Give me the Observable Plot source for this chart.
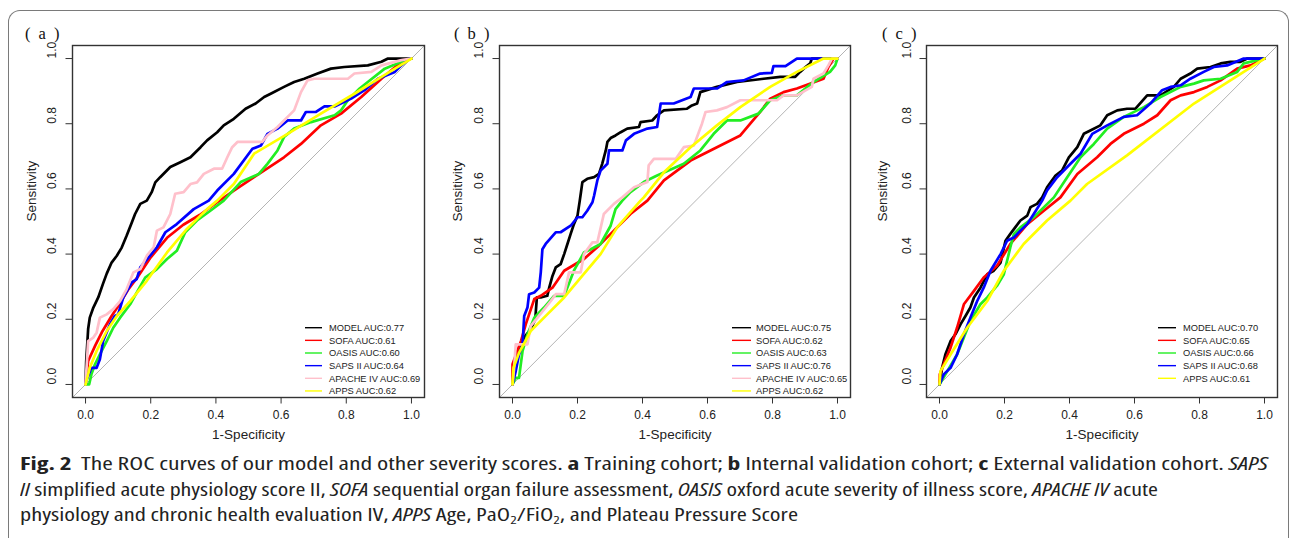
<!DOCTYPE html>
<html>
<head>
<meta charset="utf-8">
<script src="https://cdn.jsdelivr.net/npm/d3@7"></script>
<script src="https://cdn.jsdelivr.net/npm/@observablehq/plot@0.6"></script>
<style>
  html, body { margin: 0; padding: 0; background: #fff; }
  body { width: 1292px; height: 538px; position: relative; overflow: hidden; }
  #frame { position: absolute; left: 8px; top: 10px; width: 1281px; height: 600px;
           border: 1.5px solid #7a7a7a; border-bottom: none; border-radius: 12px 12px 0 0; box-sizing: border-box; }
  .panel { position: absolute; top: 0; }
  .plabel { position: absolute; font-family: "Liberation Serif", "DejaVu Serif", serif; font-size: 16.5px; color: #111; line-height: 20px; letter-spacing: 2px; white-space: pre; }
  .cap { position: absolute; left: 20px; white-space: nowrap; font-family: "Open Sans", "DejaVu Sans", sans-serif; font-stretch: 75%;
         font-size: 17.5px; line-height: 20px; color: #222; transform-origin: left center; }
  .cap b { font-weight: bold; }
  .cap sub { font-size: 11px; vertical-align: -3px; line-height: 0; }
  #overlay { position: absolute; left: 0; top: 0; pointer-events: none; }
</style>
</head>
<body>
<div id="frame"></div>
<div id="root"></div>
<script>
// ---------- data ----------
const DOMAIN = [-0.04, 1.04];
const X_TICKS = [0, 0.2, 0.4, 0.6, 0.8, 1.0];
const Y_TICKS = [0, 0.2, 0.4, 0.6, 0.8, 1.0];
const SERIES_AB = ["MODEL", "SOFA", "OASIS", "SAPS II", "APACHE IV", "APPS"];
const SERIES_C = ["MODEL", "SOFA", "OASIS", "SAPS II", "APPS"];
const AUC_A = [0.77, 0.61, 0.60, 0.64, 0.69, 0.62];
const AUC_B = [0.75, 0.62, 0.63, 0.76, 0.65, 0.62];
const AUC_C = [0.70, 0.65, 0.66, 0.68, 0.61];
const COLORS = {"MODEL": "#000000", "SOFA": "#ff0000", "OASIS": "#22ee22", "SAPS II": "#0000ff", "APACHE IV": "#ffc0cb", "APPS": "#ffff00"};

// panel (a) training cohort  [1-specificity, sensitivity]
const A_MODEL = [[0,0],[0.002,0.07],[0.008,0.17],[0.013,0.205],[0.024,0.236],[0.039,0.267],[0.054,0.31],[0.065,0.34],[0.08,0.374],[0.096,0.395],[0.111,0.42],[0.126,0.456],[0.142,0.497],[0.152,0.523],[0.168,0.554],[0.188,0.564],[0.203,0.59],[0.214,0.62],[0.229,0.636],[0.26,0.667],[0.291,0.682],[0.322,0.697],[0.353,0.728],[0.373,0.749],[0.404,0.774],[0.424,0.795],[0.455,0.815],[0.491,0.846],[0.522,0.862],[0.548,0.882],[0.568,0.892],[0.609,0.913],[0.64,0.928],[0.671,0.938],[0.712,0.954],[0.753,0.969],[0.794,0.974],[0.866,0.979],[0.908,0.99],[0.928,1],[1,1]];
const A_SOFA = [[0,0],[0.008,0.072],[0.03,0.12],[0.05,0.16],[0.08,0.21],[0.1,0.24],[0.13,0.29],[0.16,0.33],[0.2,0.39],[0.25,0.45],[0.3,0.49],[0.35,0.52],[0.404,0.559],[0.455,0.595],[0.517,0.636],[0.579,0.677],[0.609,0.697],[0.661,0.738],[0.722,0.795],[0.784,0.831],[0.846,0.882],[0.908,0.938],[0.969,0.99],[1,1]];
const A_OASIS = [[0,0],[0.011,0],[0.018,0.031],[0.029,0.062],[0.044,0.092],[0.065,0.133],[0.085,0.174],[0.106,0.205],[0.137,0.246],[0.157,0.282],[0.183,0.328],[0.219,0.354],[0.25,0.385],[0.28,0.41],[0.306,0.467],[0.342,0.503],[0.383,0.533],[0.424,0.564],[0.476,0.621],[0.532,0.646],[0.558,0.677],[0.589,0.718],[0.609,0.759],[0.64,0.785],[0.692,0.805],[0.764,0.826],[0.784,0.841],[0.805,0.872],[0.841,0.908],[0.866,0.928],[0.918,0.969],[0.969,0.99],[1,1]];
const A_SAPS = [[0,0.005],[0.018,0.051],[0.034,0.051],[0.044,0.077],[0.054,0.133],[0.075,0.185],[0.09,0.21],[0.1,0.215],[0.116,0.267],[0.142,0.313],[0.157,0.323],[0.168,0.359],[0.198,0.395],[0.219,0.421],[0.245,0.467],[0.28,0.492],[0.332,0.538],[0.378,0.564],[0.404,0.595],[0.455,0.646],[0.512,0.723],[0.538,0.733],[0.558,0.769],[0.589,0.785],[0.62,0.81],[0.661,0.81],[0.676,0.836],[0.707,0.836],[0.733,0.853],[0.764,0.853],[0.815,0.877],[0.856,0.903],[0.897,0.938],[0.949,0.959],[0.969,0.979],[0.995,1],[1,1]];
const A_APACHE = [[0,0],[0.008,0.133],[0.024,0.144],[0.034,0.159],[0.044,0.205],[0.065,0.215],[0.085,0.231],[0.106,0.256],[0.126,0.292],[0.147,0.344],[0.168,0.354],[0.188,0.395],[0.209,0.421],[0.219,0.472],[0.239,0.482],[0.26,0.523],[0.275,0.585],[0.301,0.59],[0.322,0.615],[0.342,0.62],[0.363,0.646],[0.394,0.662],[0.419,0.662],[0.435,0.697],[0.45,0.728],[0.466,0.744],[0.542,0.744],[0.558,0.764],[0.589,0.79],[0.62,0.821],[0.64,0.841],[0.661,0.897],[0.681,0.933],[0.702,0.938],[0.805,0.938],[0.825,0.954],[0.877,0.959],[0.908,0.979],[0.969,0.995],[1,1]];
const A_APPS = [[0,0],[0.013,0.051],[0.034,0.103],[0.065,0.164],[0.096,0.21],[0.137,0.256],[0.188,0.318],[0.25,0.405],[0.311,0.477],[0.373,0.538],[0.404,0.564],[0.455,0.615],[0.517,0.708],[0.62,0.769],[0.722,0.831],[0.825,0.892],[0.908,0.944],[1,1]];

// panel (b) internal validation cohort
const B_MODEL = [[0,0],[0.005,0.06],[0.02,0.11],[0.04,0.15],[0.056,0.169],[0.07,0.2],[0.075,0.267],[0.087,0.267],[0.107,0.272],[0.113,0.297],[0.123,0.333],[0.133,0.359],[0.148,0.369],[0.159,0.4],[0.169,0.431],[0.179,0.462],[0.189,0.492],[0.2,0.518],[0.207,0.564],[0.21,0.585],[0.215,0.621],[0.23,0.631],[0.251,0.636],[0.266,0.646],[0.276,0.677],[0.287,0.718],[0.292,0.744],[0.302,0.756],[0.317,0.764],[0.333,0.774],[0.353,0.785],[0.389,0.79],[0.394,0.805],[0.43,0.81],[0.445,0.826],[0.466,0.841],[0.537,0.846],[0.552,0.856],[0.568,0.862],[0.578,0.897],[0.629,0.913],[0.691,0.928],[0.773,0.938],[0.824,0.944],[0.87,0.944],[0.885,0.959],[0.896,0.969],[0.916,0.985],[0.921,1],[1,1]];
const B_SOFA = [[0,0],[0,0.062],[0.015,0.103],[0.026,0.133],[0.041,0.185],[0.067,0.262],[0.087,0.272],[0.123,0.297],[0.159,0.349],[0.22,0.385],[0.266,0.426],[0.312,0.472],[0.363,0.523],[0.415,0.564],[0.466,0.626],[0.548,0.687],[0.629,0.728],[0.701,0.764],[0.762,0.836],[0.793,0.877],[0.834,0.897],[0.875,0.908],[0.957,0.938],[0.972,0.974],[0.988,1],[1,1]];
const B_OASIS = [[0,0],[0.01,0.02],[0.02,0.02],[0.031,0.103],[0.046,0.154],[0.067,0.205],[0.097,0.236],[0.128,0.272],[0.159,0.272],[0.189,0.349],[0.22,0.405],[0.241,0.415],[0.271,0.431],[0.302,0.487],[0.317,0.538],[0.338,0.564],[0.363,0.59],[0.404,0.621],[0.445,0.641],[0.527,0.677],[0.578,0.718],[0.619,0.769],[0.66,0.81],[0.701,0.81],[0.757,0.831],[0.793,0.872],[0.834,0.887],[0.875,0.887],[0.926,0.928],[0.977,0.959],[0.993,0.979],[1,1]];
const B_SAPS = [[0,0],[0.01,0.041],[0.02,0.092],[0.031,0.123],[0.036,0.21],[0.046,0.236],[0.051,0.277],[0.067,0.282],[0.082,0.297],[0.087,0.344],[0.092,0.415],[0.102,0.431],[0.133,0.467],[0.148,0.467],[0.179,0.487],[0.2,0.513],[0.215,0.513],[0.23,0.533],[0.246,0.559],[0.251,0.579],[0.261,0.626],[0.271,0.656],[0.292,0.677],[0.297,0.718],[0.338,0.718],[0.349,0.749],[0.374,0.769],[0.415,0.785],[0.445,0.79],[0.456,0.862],[0.496,0.862],[0.548,0.882],[0.558,0.908],[0.629,0.908],[0.66,0.928],[0.711,0.933],[0.762,0.954],[0.798,0.956],[0.803,0.977],[0.84,0.977],[0.875,1],[1,1]];
const B_APACHE = [[0,0],[0.005,0.051],[0.01,0.123],[0.046,0.123],[0.056,0.179],[0.077,0.205],[0.118,0.256],[0.133,0.277],[0.159,0.277],[0.174,0.344],[0.21,0.344],[0.22,0.4],[0.246,0.436],[0.261,0.436],[0.281,0.523],[0.312,0.554],[0.338,0.574],[0.374,0.605],[0.415,0.621],[0.419,0.672],[0.435,0.692],[0.502,0.692],[0.527,0.728],[0.558,0.733],[0.583,0.8],[0.594,0.836],[0.629,0.841],[0.66,0.851],[0.701,0.872],[0.814,0.872],[0.834,0.887],[0.875,0.887],[0.921,0.913],[0.926,0.938],[0.957,0.954],[0.972,0.979],[0.983,1],[1,1]];
const B_APPS = [[0,0],[0.003,0.051],[0.02,0.097],[0.056,0.164],[0.107,0.215],[0.159,0.267],[0.21,0.328],[0.271,0.4],[0.322,0.482],[0.394,0.564],[0.404,0.574],[0.466,0.651],[0.548,0.728],[0.629,0.795],[0.701,0.851],[0.793,0.913],[0.875,0.959],[0.957,1],[1,1]];

// panel (c) external validation cohort
const C_MODEL = [[0,0],[0.008,0.051],[0.018,0.092],[0.034,0.133],[0.049,0.154],[0.065,0.185],[0.08,0.21],[0.095,0.236],[0.106,0.267],[0.126,0.297],[0.147,0.338],[0.167,0.349],[0.188,0.374],[0.203,0.441],[0.218,0.462],[0.233,0.482],[0.249,0.503],[0.27,0.518],[0.28,0.544],[0.3,0.554],[0.316,0.574],[0.331,0.605],[0.357,0.641],[0.377,0.656],[0.398,0.697],[0.424,0.728],[0.444,0.769],[0.464,0.779],[0.495,0.795],[0.516,0.826],[0.547,0.841],[0.577,0.846],[0.603,0.846],[0.639,0.887],[0.68,0.887],[0.721,0.913],[0.742,0.938],[0.772,0.954],[0.793,0.969],[0.834,0.974],[0.865,0.985],[0.895,0.99],[0.926,0.99],[0.947,1],[1,1]];
const C_SOFA = [[0,0],[0.001,0.031],[0.013,0.062],[0.034,0.113],[0.054,0.174],[0.075,0.246],[0.106,0.287],[0.136,0.328],[0.177,0.364],[0.218,0.431],[0.27,0.492],[0.321,0.533],[0.372,0.574],[0.424,0.646],[0.485,0.697],[0.526,0.738],[0.567,0.769],[0.629,0.8],[0.67,0.826],[0.711,0.872],[0.742,0.887],[0.783,0.897],[0.824,0.913],[0.865,0.933],[0.916,0.969],[0.957,0.979],[1,1]];
const C_OASIS = [[0,0],[0.024,0.041],[0.054,0.092],[0.075,0.144],[0.095,0.195],[0.126,0.246],[0.147,0.267],[0.177,0.303],[0.198,0.338],[0.218,0.421],[0.229,0.462],[0.249,0.482],[0.29,0.513],[0.352,0.574],[0.393,0.636],[0.434,0.697],[0.475,0.738],[0.516,0.785],[0.567,0.821],[0.629,0.851],[0.68,0.882],[0.742,0.913],[0.783,0.923],[0.813,0.933],[0.865,0.938],[0.916,0.959],[0.936,0.985],[1,1]];
const C_SAPS = [[0,0],[0.013,0.031],[0.034,0.051],[0.054,0.092],[0.075,0.154],[0.095,0.205],[0.116,0.256],[0.136,0.297],[0.157,0.349],[0.188,0.4],[0.208,0.441],[0.229,0.451],[0.249,0.472],[0.27,0.492],[0.29,0.523],[0.316,0.564],[0.331,0.595],[0.362,0.636],[0.403,0.677],[0.434,0.708],[0.47,0.769],[0.516,0.795],[0.567,0.821],[0.608,0.826],[0.649,0.862],[0.685,0.903],[0.711,0.913],[0.742,0.918],[0.772,0.938],[0.813,0.959],[0.844,0.974],[0.885,0.979],[0.936,1],[1,1]];
const C_APPS = [[0,0],[0.003,0.041],[0.034,0.092],[0.085,0.174],[0.147,0.256],[0.198,0.349],[0.259,0.431],[0.331,0.503],[0.403,0.564],[0.413,0.574],[0.454,0.615],[0.577,0.703],[0.783,0.862],[1,1]];

const PANELS = [
  {label: "( a )", names: SERIES_AB, auc: AUC_A, curves: [A_MODEL, A_SOFA, A_OASIS, A_SAPS, A_APACHE, A_APPS]},
  {label: "( b )", names: SERIES_AB, auc: AUC_B, curves: [B_MODEL, B_SOFA, B_OASIS, B_SAPS, B_APACHE, B_APPS]},
  {label: "( c )", names: SERIES_C, auc: AUC_C, curves: [C_MODEL, C_SOFA, C_OASIS, C_SAPS, C_APPS]}
];

// ---------- layout (pixels) ----------
const LAYOUT = [
  {left: 0,   width: 430, mL: 72, mR: 6,  yTickDx: -20.5, yLabDx: -41, labX: 25,  legLine: [305, 322], legText: 329},
  {left: 430, width: 430, mL: 69, mR: 10, yTickDx: -20,   yLabDx: -42, labX: 454, legLine: [732, 751], legText: 756},
  {left: 860, width: 432, mL: 66, mR: 15, yTickDx: -19.5, yLabDx: -44, labX: 882, legLine: [1158, 1176], legText: 1183}
];
const H = 450, MT = 45, MB = 53;
const FONT = "'Liberation Sans', Arial, sans-serif";

const root = document.getElementById("root");

PANELS.forEach((p, i) => {
  const L = LAYOUT[i];
  const marks = [
    Plot.line([[DOMAIN[0], DOMAIN[0]], [DOMAIN[1], DOMAIN[1]]], {x: d => d[0], y: d => d[1], stroke: "#b4b4b4", strokeWidth: 1}),
  ];
  p.curves.forEach((c, k) => {
    marks.push(Plot.line(c, {x: d => d[0], y: d => d[1], stroke: COLORS[p.names[k]], strokeWidth: 2.7, strokeLinejoin: "round"}));
  });
  marks.push(
    Plot.frame({stroke: "#333", strokeWidth: 1.4}),
    Plot.axisX({ticks: X_TICKS, tickSize: 6.5, tickFormat: () => "", stroke: "#333"}),
    Plot.axisY({ticks: Y_TICKS, tickSize: 6.5, tickFormat: () => "", stroke: "#333"}),
    Plot.text(X_TICKS, {x: d => d, text: d => d.toFixed(1), frameAnchor: "bottom", dy: 21, fontSize: 12, fill: "#222"}),
    Plot.text(Y_TICKS, {y: d => d, text: d => d.toFixed(1), frameAnchor: "left", dx: L.yTickDx, rotate: -90, fontSize: 12, fill: "#222"}),
    Plot.text(["1-Specificity"], {frameAnchor: "bottom", dy: 41, fontSize: 13.5, fill: "#222"}),
    Plot.text(["Sensitivity"], {frameAnchor: "left", dx: L.yLabDx, rotate: -90, fontSize: 13.5, fill: "#222"})
  );
  const svg = Plot.plot({
    width: L.width, height: H,
    marginLeft: L.mL, marginRight: L.mR, marginTop: MT, marginBottom: MB,
    x: {domain: DOMAIN, label: null, axis: null},
    y: {domain: DOMAIN, label: null, axis: null},
    style: {background: "transparent", fontFamily: FONT, overflow: "visible"},
    marks
  });
  svg.classList.add("panel");
  svg.style.left = L.left + "px";
  svg.style.maxWidth = "none";
  root.appendChild(svg);

  const lab = document.createElement("div");
  lab.className = "plabel";
  lab.textContent = p.label;
  lab.style.left = (L.labX) + "px";
  lab.style.top = "24px";
  root.appendChild(lab);
});

// legends
const overlay = d3.select("body").append("svg").attr("id", "overlay").attr("width", 1292).attr("height", 538);
PANELS.forEach((p, i) => {
  const L = LAYOUT[i];
  p.names.forEach((n, k) => {
    const y = 327.7 + k * 12.65;
    overlay.append("line").attr("x1", L.legLine[0]).attr("x2", L.legLine[1]).attr("y1", y).attr("y2", y)
      .attr("stroke", COLORS[n]).attr("stroke-width", 1.4);
    overlay.append("text").attr("x", L.legText).attr("y", y).attr("dy", "0.35em")
      .attr("font-family", FONT).attr("font-size", 9.3).attr("fill", "#222")
      .text(`${n} AUC:${p.auc[k].toFixed(2)}`);
  });
});

// caption
const CAPTION = [
  {y: 463, w: 1248, html: "<b>Fig. 2</b>&nbsp; The ROC curves of our model and other severity scores. <b>a</b> Training cohort; <b>b</b> Internal validation cohort; <b>c</b> External validation cohort. <i>SAPS</i>"},
  {y: 489, w: 1138, html: "<i>II</i> simplified acute physiology score II, <i>SOFA</i> sequential organ failure assessment, <i>OASIS</i> oxford acute severity of illness score, <i>APACHE IV</i> acute"},
  {y: 514, w: 778, html: "physiology and chronic health evaluation IV, <i>APPS</i> Age, PaO<sub>2</sub>/FiO<sub>2</sub>, and Plateau Pressure Score"}
];
CAPTION.forEach(c => {
  const d = document.createElement("div");
  d.className = "cap";
  d.innerHTML = c.html;
  d.style.top = (c.y - 10) + "px";
  document.body.appendChild(d);
  const w = d.getBoundingClientRect().width;
  d.style.transform = `scaleX(${c.w / w})`;
});
</script>
</body>
</html>
